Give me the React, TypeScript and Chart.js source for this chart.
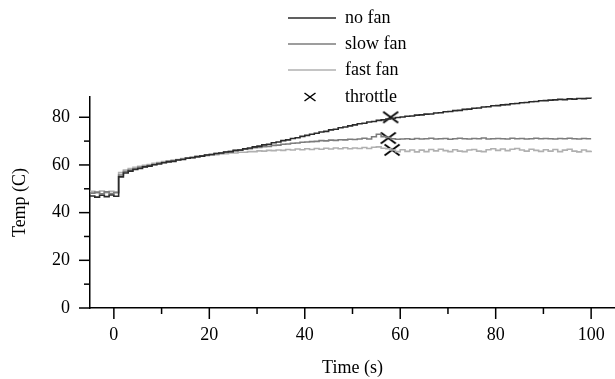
import React, { useEffect, useRef } from "react";
import { Chart, registerables } from "chart.js";
Chart.register(...registerables);

const seriesNames = ["no fan", "slow fan", "fast fan"];
const throttleName = "throttle";

const times = [
  -5, -4, -3, -2, -1, 0, 1, 2, 3, 4, 5, 6, 7, 8, 9, 10, 11, 12, 13, 14, 15, 16, 17, 18, 19, 20,
  21, 22, 23, 24, 25, 26, 27, 28, 29, 30, 31, 32, 33, 34, 35, 36, 37, 38, 39, 40, 41, 42, 43, 44, 45,
  46, 47, 48, 49, 50, 51, 52, 53, 54, 55, 56, 57, 58, 59, 60, 61, 62, 63, 64, 65, 66, 67, 68, 69, 70,
  71, 72, 73, 74, 75, 76, 77, 78, 79, 80, 81, 82, 83, 84, 85, 86, 87, 88, 89, 90, 91, 92, 93, 94, 95,
  96, 97, 98, 99, 100,
];

const noFan = [
  47.0, 46.5, 47.3, 46.7, 47.4, 46.9,
  55.0, 56.6, 57.4, 58.1, 58.5, 59.2, 59.5, 60.1, 60.4, 60.9,
  61.3, 61.5, 62.1, 62.3, 62.8, 63.0, 63.5, 63.7, 64.2, 64.4,
  64.8, 65.0, 65.4, 65.6, 66.1, 66.3, 66.8, 67.1, 67.6, 67.9,
  68.4, 68.7, 69.3, 69.6, 70.2, 70.5, 71.1, 71.4, 72.0, 72.4,
  72.9, 73.3, 73.8, 74.1, 74.7, 75.0, 75.6, 75.9, 76.4, 76.8,
  77.3, 77.5, 78.0, 78.2, 78.7, 78.9, 79.3, 79.6, 79.9, 80.1,
  80.4, 80.5, 80.9, 81.0, 81.3, 81.4, 81.8, 81.9, 82.3, 82.4,
  82.8, 82.9, 83.3, 83.4, 83.8, 83.9, 84.3, 84.4, 84.8, 84.9,
  85.2, 85.3, 85.7, 85.8, 86.1, 86.2, 86.5, 86.6, 86.9, 87.0,
  87.2, 87.3, 87.5, 87.4, 87.7, 87.6, 87.9, 87.8, 88.0, 87.9,
];

const slowFan = [
  48.2, 48.6, 47.9, 48.7, 48.0, 48.4,
  55.8, 57.2, 57.9, 58.4, 59.0, 59.3, 59.8, 60.2, 60.7, 61.0,
  61.5, 61.7, 62.2, 62.4, 62.9, 63.1, 63.5, 63.8, 64.2, 64.4,
  64.8, 65.0, 65.4, 65.6, 66.0, 66.2, 66.6, 66.8, 67.2, 67.3,
  67.7, 67.8, 68.2, 68.3, 68.7, 68.8, 69.1, 69.2, 69.5, 69.6,
  69.8, 69.9, 70.2, 70.1, 70.4, 70.3, 70.6, 70.5, 70.8, 70.7,
  70.9, 71.2, 70.9, 71.8, 72.9, 71.9, 71.5, 71.0, 70.8, 70.9,
  71.0, 70.8, 71.1, 70.9, 71.0, 71.2, 70.9, 71.0, 71.1, 70.8,
  71.0, 71.2, 71.0, 70.9, 71.1, 71.0, 71.3, 70.9, 71.0, 71.1,
  71.0, 70.9, 71.2, 71.0, 71.1, 70.9, 71.0, 71.2, 71.0, 71.1,
  71.0, 70.9, 71.1, 71.0, 71.2, 71.0, 70.9, 71.1, 71.0, 71.0,
];

const fastFan = [
  48.9, 48.3, 49.1, 48.4, 49.0, 48.6,
  56.8, 57.9, 58.5, 59.0, 59.4, 59.9, 60.2, 60.7, 61.0, 61.4,
  61.7, 62.1, 62.3, 62.7, 62.9, 63.3, 63.4, 63.8, 63.9, 64.2,
  64.3, 64.6, 64.7, 65.0, 65.0, 65.3, 65.3, 65.6, 65.6, 65.9,
  65.8, 66.1, 66.0, 66.3, 66.1, 66.5, 66.3, 66.7, 66.4, 66.8,
  66.5, 66.9, 66.6, 67.0, 66.7, 67.1, 66.8, 67.2, 66.8, 67.1,
  66.9, 67.3, 66.9, 67.4, 67.6, 67.0, 66.8, 66.3, 65.6, 66.4,
  65.7, 66.3, 65.5, 66.2, 65.6, 66.5, 65.9, 66.6, 66.0, 65.6,
  66.4, 65.8, 65.6, 66.3, 66.5, 65.8, 65.6, 66.4, 66.8, 66.1,
  66.7, 66.0, 66.6, 66.9, 66.3, 65.8, 66.6, 66.1, 65.7, 66.4,
  65.8, 66.5, 65.6, 66.2, 66.6, 65.8, 65.5, 66.3, 65.7, 66.0,
];

const throttleTimes = [58, 57.5, 58.3];
const throttleTemps = [80, 71.3, 66.3];

const xMajorTicks = [0, 20, 40, 60, 80, 100];
const xMinorTicks = [10, 30, 50, 70, 90];
const yMajorTicks = [0, 20, 40, 60, 80];
const yMinorTicks = [10, 30, 50, 70];

const FONT = "'Liberation Serif', 'Times New Roman', serif";
const colors = ["#2b2b2b", "#7c7c7c", "#b0b0b0"];

function drawX(ctx: CanvasRenderingContext2D, cx: number, cy: number, hw: number, hh: number) {
  ctx.beginPath();
  ctx.moveTo(cx - hw, cy - hh);
  ctx.lineTo(cx + hw, cy + hh);
  ctx.moveTo(cx - hw, cy + hh);
  ctx.lineTo(cx + hw, cy - hh);
  ctx.stroke();
}

const tickPlugin = {
  id: "customTicks",
  afterDraw(chart: any) {
    const ctx = chart.ctx;
    const xs = chart.scales.x;
    const ys = chart.scales.y;
    const area = chart.chartArea;
    ctx.save();
    ctx.strokeStyle = "#000";
    ctx.lineWidth = 1.5;
    const tx = (v: number, len: number) => {
      const p = xs.getPixelForValue(v);
      ctx.beginPath();
      ctx.moveTo(p, area.bottom);
      ctx.lineTo(p, area.bottom + len);
      ctx.stroke();
    };
    const ty = (v: number, len: number) => {
      const p = ys.getPixelForValue(v);
      ctx.beginPath();
      ctx.moveTo(area.left, p);
      ctx.lineTo(area.left - len, p);
      ctx.stroke();
    };
    xMajorTicks.forEach((v) => tx(v, 11));
    xMinorTicks.forEach((v) => tx(v, 6));
    yMajorTicks.forEach((v) => ty(v, 11));
    yMinorTicks.forEach((v) => ty(v, 6));
    ctx.restore();
  },
};

const legendPlugin = {
  id: "customLegend",
  afterDraw(chart: any) {
    const ctx = chart.ctx;
    const ds = chart.data.datasets;
    const rowsY = [18, 44, 70, 97];
    const x1 = 288;
    const x2 = 336;
    const tx = 345;
    ctx.save();
    ctx.font = `18px ${FONT}`;
    ctx.textBaseline = "middle";
    ctx.textAlign = "left";
    ctx.fillStyle = "#000";
    for (let i = 0; i < 3; i++) {
      ctx.strokeStyle = ds[i].borderColor;
      ctx.lineWidth = 1.5;
      ctx.beginPath();
      ctx.moveTo(x1, rowsY[i]);
      ctx.lineTo(x2, rowsY[i]);
      ctx.stroke();
      ctx.fillText(ds[i].label, tx, rowsY[i]);
    }
    ctx.strokeStyle = "#000";
    ctx.lineWidth = 1.5;
    drawX(ctx, (x1 + x2) / 2 - 2, rowsY[3], 5.5, 4);
    ctx.fillText(ds[3].label, tx, rowsY[3]);
    ctx.restore();
  },
};

export default function App() {
  const ref = useRef<HTMLCanvasElement | null>(null);
  useEffect(() => {
    if (!ref.current) return;
    const marker = document.createElement("canvas");
    marker.width = 18;
    marker.height = 14;
    const mctx = marker.getContext("2d")!;
    mctx.strokeStyle = "#000";
    mctx.lineWidth = 1.8;
    drawX(mctx, 9, 7, 7.5, 5.5);

    const toPts = (arr: number[]) => times.map((t, i) => ({ x: t, y: arr[i] }));
    const chart = new Chart(ref.current, {
      type: "line",
      data: {
        datasets: [
          { label: seriesNames[0], data: toPts(noFan), borderColor: colors[0], borderWidth: 1.6, pointRadius: 0, stepped: true, fill: false },
          { label: seriesNames[1], data: toPts(slowFan), borderColor: colors[1], borderWidth: 1.6, pointRadius: 0, stepped: true, fill: false },
          { label: seriesNames[2], data: toPts(fastFan), borderColor: colors[2], borderWidth: 1.6, pointRadius: 0, stepped: true, fill: false },
          {
            label: throttleName,
            data: throttleTimes.map((t, i) => ({ x: t, y: throttleTemps[i] })),
            showLine: false,
            borderColor: "#000",
            backgroundColor: "#000",
            pointStyle: marker,
            pointRadius: 7,
          } as any,
        ],
      },
      options: {
        responsive: false,
        animation: false,
        devicePixelRatio: 1,
        layout: { padding: { top: 97, left: 0, right: 0, bottom: 0 }, autoPadding: false },
        plugins: { legend: { display: false }, tooltip: { enabled: false } },
        scales: {
          x: {
            type: "linear",
            min: -5,
            max: 105,
            afterFit: (s: any) => { s.height = 71; },
            afterBuildTicks: (s: any) => { s.ticks = xMajorTicks.map((v) => ({ value: v })); },
            grid: { display: false, drawTicks: true, tickLength: 16 },
            border: { display: true, color: "#000", width: 1.5 },
            ticks: {
              autoSkip: false,
              maxRotation: 0,
              padding: 0,
              color: "#000",
              font: { family: FONT, size: 18 },
              callback: (v: any) => String(v),
            },
            title: { display: true, text: "Time (s)", color: "#000", font: { family: FONT, size: 18 }, padding: { top: 0, bottom: 0 } },
          },
          y: {
            type: "linear",
            min: 0,
            max: 88.5,
            afterFit: (s: any) => { s.width = 90; },
            afterBuildTicks: (s: any) => { s.ticks = yMajorTicks.map((v) => ({ value: v })); },
            grid: { display: false, drawTicks: true, tickLength: 20 },
            border: { display: true, color: "#000", width: 1.5 },
            ticks: {
              autoSkip: false,
              padding: 0,
              color: "#000",
              font: { family: FONT, size: 18 },
              callback: (v: any) => String(v),
            },
            title: { display: true, text: "Temp (C)", color: "#000", font: { family: FONT, size: 18 }, padding: { top: 9, bottom: 0 } },
          },
        },
      },
      plugins: [tickPlugin, legendPlugin],
    });
    return () => chart.destroy();
  }, []);
  return (
    <div style={{ position: "absolute", left: 0, top: 0, width: 615, height: 379, background: "#fff" }}>
      <canvas ref={ref} width={615} height={379} style={{ display: "block" }} />
    </div>
  );
}
